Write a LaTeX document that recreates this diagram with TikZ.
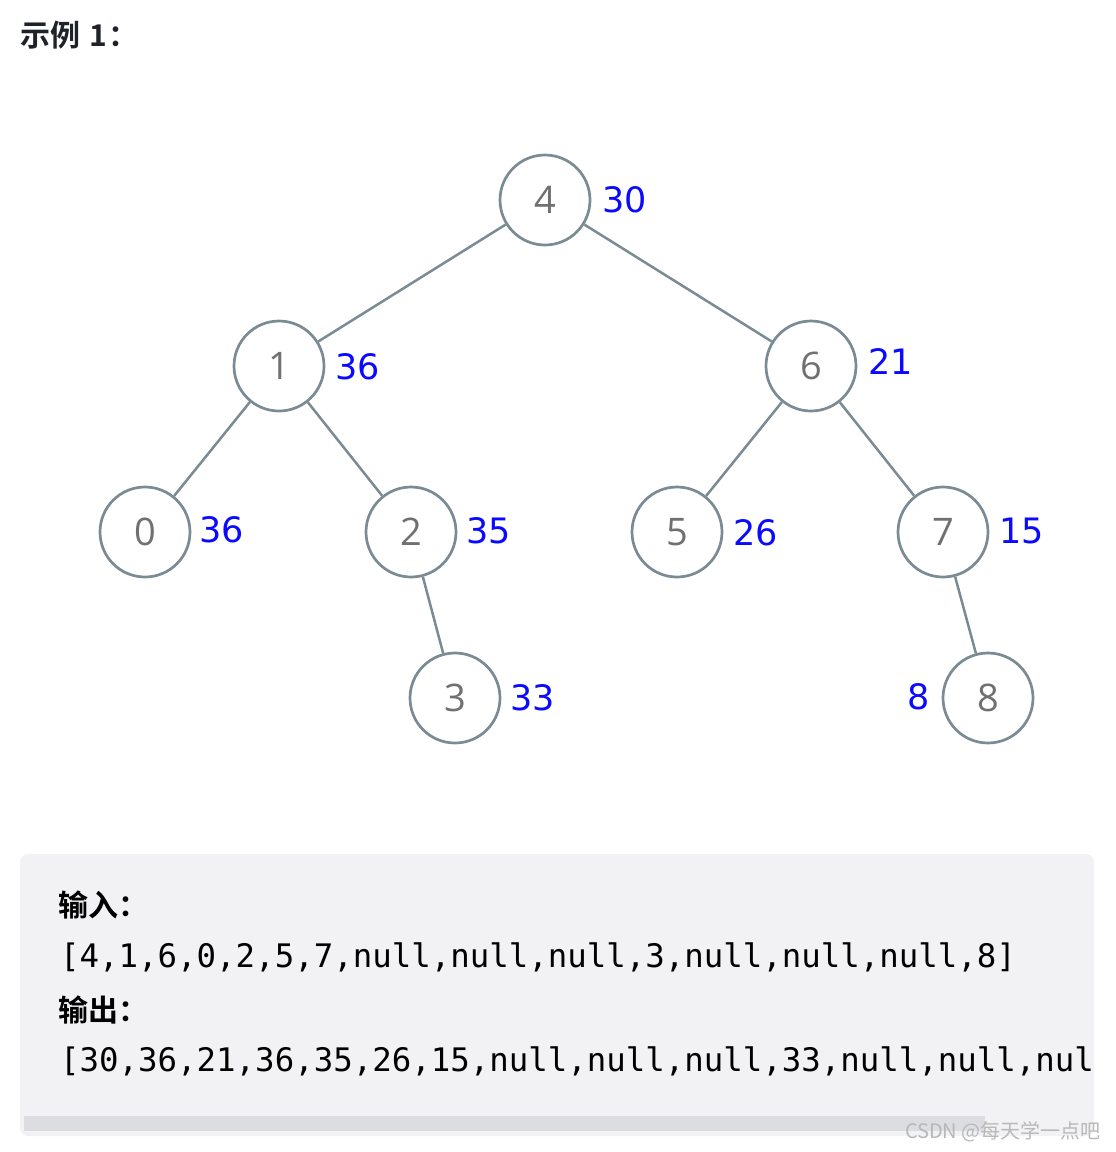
\documentclass[tikz,border=0pt]{standalone}
\usepackage{fontspec}
\newfontfamily\cjkb{Noto Sans CJK SC Bold}
\newfontfamily\cjkr{Noto Sans CJK SC}
\newfontfamily\labfont{DejaVu Sans}
\newfontfamily\digfont{Open Sans}
\newfontfamily\monof{DejaVu Sans Mono}
\definecolor{edgec}{HTML}{7A8B94}
\definecolor{labc}{HTML}{0A0AFF}
\definecolor{digc}{HTML}{707070}
\definecolor{boxc}{HTML}{F2F2F4}
\definecolor{barc}{HTML}{DCDDE0}
\definecolor{titlec}{HTML}{1F2329}
\tikzset{
  tnode/.style={circle, draw=edgec, line width=2.7pt, fill=white, minimum size=90pt, inner sep=0pt,
     font=\digfont\fontsize{38}{38}\selectfont, text=digc},
  tedge/.style={draw=edgec, line width=2.5pt},
  vlab/.style={anchor=west, inner sep=0pt, font=\labfont\fontsize{35}{35}\selectfont, text=labc},
  head/.style={anchor=west, inner sep=0pt, font=\cjkb\fontsize{30}{30}\selectfont, text=black},
  code/.style={anchor=west, inner sep=0pt, font=\monof\fontsize{32.4}{32.4}\selectfont, text=black},
}
\begin{document}
\begin{tikzpicture}[x=1pt,y=-1pt]
\useasboundingbox (0,0) rectangle (1116,1152);
% title
\node[anchor=west, inner sep=0pt, font=\cjkb\fontsize{30}{30}\selectfont, text=titlec] (title) at (20,35) {示例\hspace{9pt}1\hspace{2pt}：};
% tree nodes
\node[tnode] (n4) at (545,200) {4};
\node[tnode] (n1) at (279,366) {1};
\node[tnode] (n6) at (811,366) {6};
\node[tnode] (n0) at (145,532) {0};
\node[tnode] (n2) at (411,532) {2};
\node[tnode] (n5) at (677,532) {5};
\node[tnode] (n7) at (943,532) {7};
\node[tnode] (n3) at (455,698) {3};
\node[tnode] (n8) at (988,698) {8};
% edges
\draw[tedge] (n4) -- (n1);
\draw[tedge] (n4) -- (n6);
\draw[tedge] (n1) -- (n0);
\draw[tedge] (n1) -- (n2);
\draw[tedge] (n6) -- (n5);
\draw[tedge] (n6) -- (n7);
\draw[tedge] (n2) -- (n3);
\draw[tedge] (n7) -- (n8);
% value labels
\node[vlab] (l4) at (602,200) {30};
\node[vlab] (l1) at (335,367) {36};
\node[vlab] (l6) at (868,362) {21};
\node[vlab] (l0) at (199,530) {36};
\node[vlab] (l2) at (466,531) {35};
\node[vlab] (l5) at (733,533) {26};
\node[vlab] (l7) at (999,531) {15};
\node[vlab] (l3) at (510,698) {33};
\node[vlab] (l8) at (907,697) {8};
% code box
\path[fill=boxc, rounded corners=8pt] (20,854) rectangle (1094,1136);
\path[fill=barc] (24,1116) rectangle (985,1131);
\node[head] (in) at (58,905) {输入：};
\node[code] (inv) at (60,957) {[4,1,6,0,2,5,7,null,null,null,3,null,null,null,8]};
\node[head] (out) at (58,1010) {输出：};
\begin{scope}
\clip (20,854) rectangle (1094,1136);
\node[code] (outv) at (60,1061) {[30,36,21,36,35,26,15,null,null,null,33,null,null,null,8]};
\end{scope}
% watermark
\node[anchor=east, inner sep=0pt, font=\cjkr\fontsize{20}{20}\selectfont, text=black!28] (wm) at (1101,1132) {CSDN @每天学一点吧};
\end{tikzpicture}
\end{document}
